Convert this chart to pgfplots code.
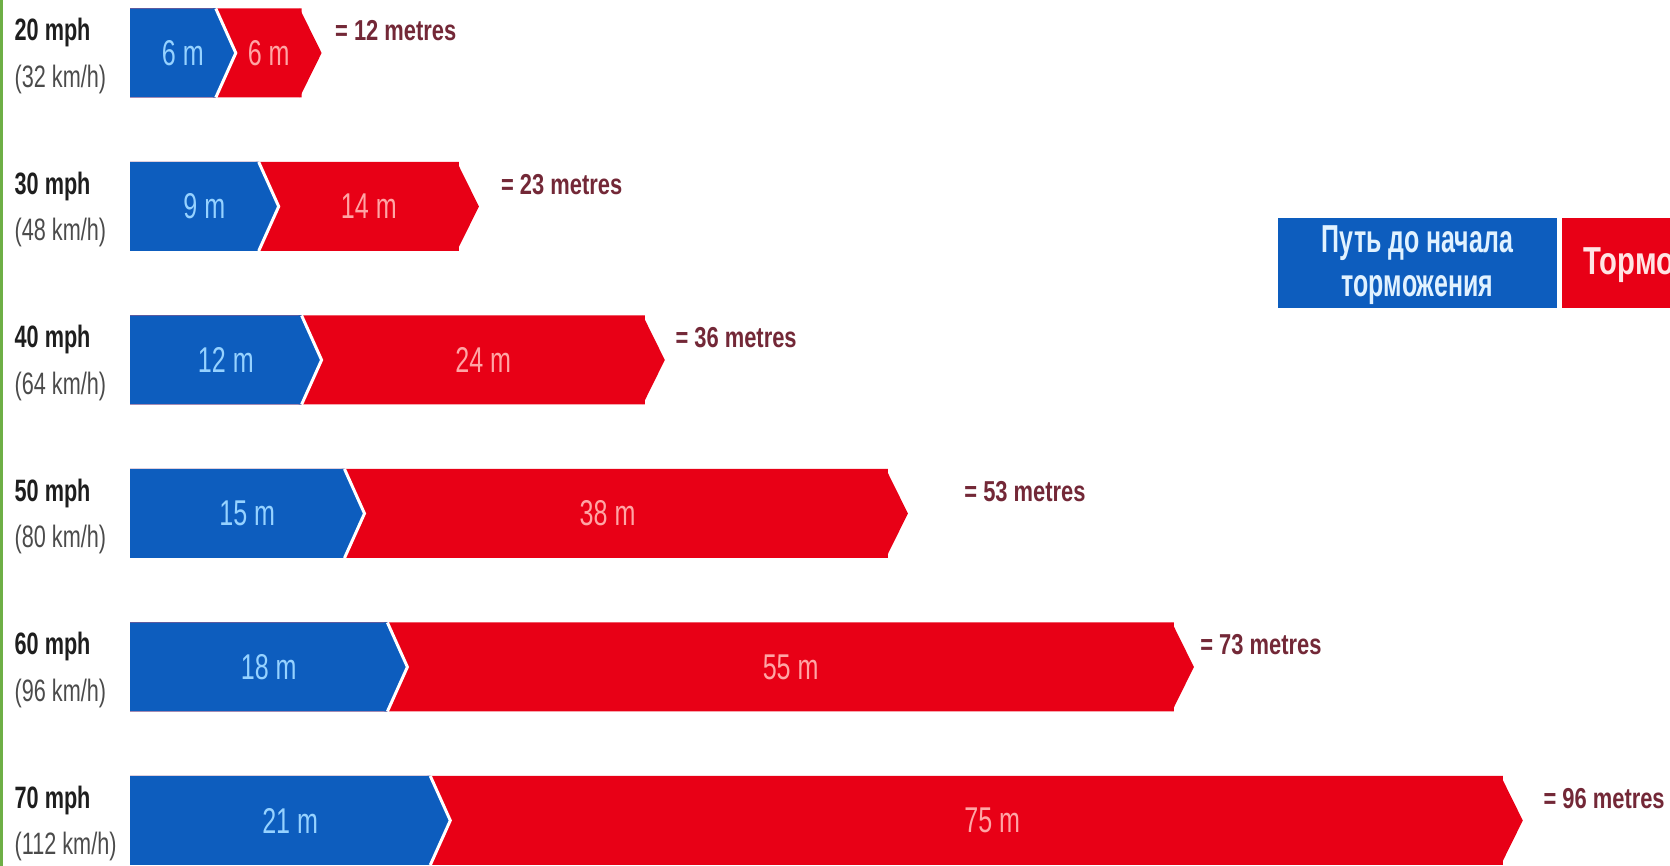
\documentclass[border=0pt]{standalone}
\usepackage{fontspec}
\setmainfont{Liberation Sans}
\newfontfamily\spdfont[FakeStretch=0.7]{Liberation Sans}
\newfontfamily\barfont[FakeStretch=0.7]{Liberation Sans}
\newfontfamily\totfont[FakeStretch=0.76]{Liberation Sans}
\newfontfamily\legfont[FakeStretch=0.64]{Liberation Sans}
\newfontfamily\legfontb[FakeStretch=0.75]{Liberation Sans}
\usepackage{pgfplots}
\usepackage{pgfplotstable}
\pgfplotsset{compat=1.18}

\definecolor{barblue}{RGB}{13,93,190}
\definecolor{barred}{RGB}{232,0,22}
\definecolor{bluetxt}{RGB}{150,210,255}
\definecolor{redtxt}{RGB}{255,165,165}
\definecolor{tottxt}{RGB}{115,40,55}
\definecolor{mphtxt}{RGB}{30,30,30}
\definecolor{kmhtxt}{RGB}{75,75,75}
\definecolor{legblue}{RGB}{225,242,255}
\definecolor{legred}{RGB}{255,228,228}
\definecolor{edgegreen}{RGB}{110,175,70}

% arrow tips of the bar segments
\pgfdeclareplotmark{tipblue}{%
  \pgfpathmoveto{\pgfpoint{-0.3mm}{4.45mm}}%
  \pgfpathlineto{\pgfpoint{0mm}{4.45mm}}%
  \pgfpathlineto{\pgfpoint{2mm}{0mm}}%
  \pgfpathlineto{\pgfpoint{0mm}{-4.45mm}}%
  \pgfpathlineto{\pgfpoint{-0.3mm}{-4.45mm}}%
  \pgfpathclose
  \pgfusepathqfill
  \pgfpathmoveto{\pgfpoint{0mm}{4.45mm}}%
  \pgfpathlineto{\pgfpoint{2mm}{0mm}}%
  \pgfpathlineto{\pgfpoint{0mm}{-4.45mm}}%
  \pgfusepathqstroke}
\pgfdeclareplotmark{tipred}{%
  \pgfpathmoveto{\pgfpoint{-0.2mm}{4.45mm}}%
  \pgfpathlineto{\pgfpoint{2mm}{0mm}}%
  \pgfpathlineto{\pgfpoint{-0.2mm}{-4.45mm}}%
  \pgfpathclose
  \pgfusepathqfill}

% reaction distance (blue) and braking distance (red), metres;
% bl and rl: where the segment labels sit
\pgfplotstableread{
row blue red bl rl
5 6 6 3 9
4 9 14 4.5 16
3 12 24 6 24
2 15 38 7.5 32.7
1 18 55 9 45.5
0 21 75 10.5 59.6
}\stopdata

% total labels: position and value
\pgfplotstableread{
lx ly tot
14.3 5.145 12
25.9 4.145 23
38.1 3.145 36
58.3 2.145 53
74.8 1.145 73
98.8 0.145 96
}\totdata

\begin{document}
\begin{tikzpicture}
\useasboundingbox (0,0) rectangle (167mm,86.6mm);
\begin{axis}[
    at={(0,0)}, anchor=south west,
    scale only axis,
    width=167mm, height=86.6mm,
    xmin=-9.091, xmax=107.692,
    ymin=-0.2964, ymax=5.3453,
    axis line style={draw=none},
    major tick length=0pt,
    xtick=\empty,
    ytick={0,1,2,3,4,5},
    yticklabels={
      {{\bfseries 70 mph}\\{\color{kmhtxt}(112 km/h)}},
      {{\bfseries 60 mph}\\{\color{kmhtxt}(96 km/h)}},
      {{\bfseries 50 mph}\\{\color{kmhtxt}(80 km/h)}},
      {{\bfseries 40 mph}\\{\color{kmhtxt}(64 km/h)}},
      {{\bfseries 30 mph}\\{\color{kmhtxt}(48 km/h)}},
      {{\bfseries 20 mph}\\{\color{kmhtxt}(32 km/h)}}},
    yticklabel style={font=\spdfont\fontsize{8.8}{13.3}\selectfont,
      text=mphtxt, align=left, anchor=west, inner sep=0pt,
      xshift=1.4mm, yshift=-0.3mm},
]
% red bars run to the total, blue bars lie on top of them
\addplot[xbar, bar shift=0pt, bar width=8.9mm, fill=barred, draw=none]
  table[x expr=\thisrow{blue}+\thisrow{red}, y=row] {\stopdata};
\addplot[only marks, mark=tipred, mark options={fill=barred, draw=none}]
  table[x expr=\thisrow{blue}+\thisrow{red}, y=row] {\stopdata};
\addplot[xbar, bar shift=0pt, bar width=8.9mm, fill=barblue, draw=none]
  table[x=blue, y=row] {\stopdata};
\addplot[only marks, mark=tipblue,
  mark options={fill=barblue, draw=white, line width=0.3mm}]
  table[x=blue, y=row] {\stopdata};

% segment labels
\addplot[only marks, mark=*, mark size=0pt, draw=none, fill=none,
  point meta=explicit symbolic,
  nodes near coords={\pgfplotspointmeta~m},
  every node near coord/.style={anchor=center, xshift=1mm, text=bluetxt,
    font=\barfont\fontsize{10.2}{12}\selectfont}]
  table[x=bl, y=row, meta=blue] {\stopdata};
\addplot[only marks, mark=*, mark size=0pt, draw=none, fill=none,
  point meta=explicit symbolic,
  nodes near coords={\pgfplotspointmeta~m},
  every node near coord/.style={anchor=center, xshift=1mm, text=redtxt,
    font=\barfont\fontsize{10.2}{12}\selectfont}]
  table[x=rl, y=row, meta=red] {\stopdata};

% totals
\addplot[only marks, mark=*, mark size=0pt, draw=none, fill=none,
  point meta=explicit symbolic,
  nodes near coords={= \pgfplotspointmeta{} metres},
  every node near coord/.style={anchor=west, inner sep=0pt, text=tottxt,
    font=\totfont\bfseries\fontsize{8.2}{10}\selectfont}]
  table[x=lx, y=ly, meta=tot] {\totdata};
\end{axis}

% legend, cut by the right edge as in the source
\begin{scope}
\clip (0,0) rectangle (167mm,86.6mm);
\fill[barblue] (127.8mm,55.8mm) rectangle (155.7mm,64.8mm);
\fill[barred] (156.2mm,55.8mm) rectangle (185mm,64.8mm);
\node[align=center, inner sep=0pt, text=legblue,
  font=\legfont\bfseries\fontsize{11.1}{12.5}\selectfont]
  at (141.75mm,60.1mm) {Путь до начала\\торможения};
\node[anchor=west, inner sep=0pt, text=legred,
  font=\legfontb\bfseries\fontsize{11.1}{12.5}\selectfont]
  at (158.3mm,60.2mm) {Тормозной путь};
\fill[edgegreen] (0,0) rectangle (0.28mm,86.6mm);
\end{scope}
\end{tikzpicture}
\end{document}
